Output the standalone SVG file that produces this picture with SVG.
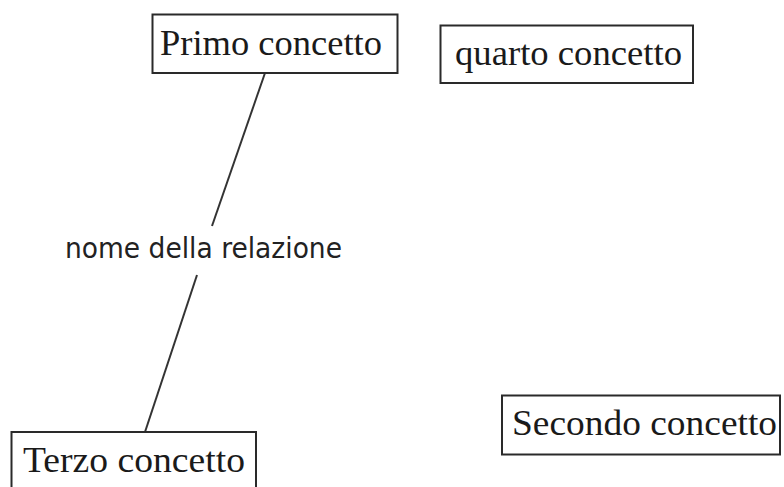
<svg xmlns="http://www.w3.org/2000/svg" width="784" height="487" viewBox="0 0 784 487">
<style>
.box{fill:#fff;stroke:#2a2a2a;stroke-width:2}
.t{font-family:"Liberation Serif","Times New Roman",serif;font-size:36px;fill:#1a1a1a}
.lbl{font-family:"DejaVu Sans","Liberation Sans",sans-serif;font-size:29px;fill:#222}
.edge{stroke:#333;stroke-width:2;fill:none}
</style>
<rect width="784" height="487" fill="#fff"/>
<g id="connectors">
<line class="edge" x1="265" y1="73" x2="212" y2="226"/>
<line class="edge" x1="197" y1="275" x2="145" y2="432"/>
<text class="lbl" x="65" y="258" textLength="277" lengthAdjust="spacingAndGlyphs">nome della relazione</text>
</g>
<g id="primo">
<rect class="box" x="152.5" y="14.5" width="245" height="58.5"/>
<text class="t" x="160" y="55" textLength="222" lengthAdjust="spacingAndGlyphs">Primo concetto</text>
</g>
<g id="quarto">
<rect class="box" x="440.5" y="25.5" width="252.5" height="57.5"/>
<text class="t" x="455" y="65" textLength="227" lengthAdjust="spacingAndGlyphs">quarto concetto</text>
</g>
<g id="terzo">
<rect class="box" x="11.5" y="432" width="244.5" height="62"/>
<text class="t" x="23" y="472" textLength="222" lengthAdjust="spacingAndGlyphs">Terzo concetto</text>
</g>
<g id="secondo">
<rect class="box" x="502" y="395.5" width="278" height="59"/>
<text class="t" x="512" y="435" textLength="265" lengthAdjust="spacingAndGlyphs">Secondo concetto</text>
</g>
</svg>
